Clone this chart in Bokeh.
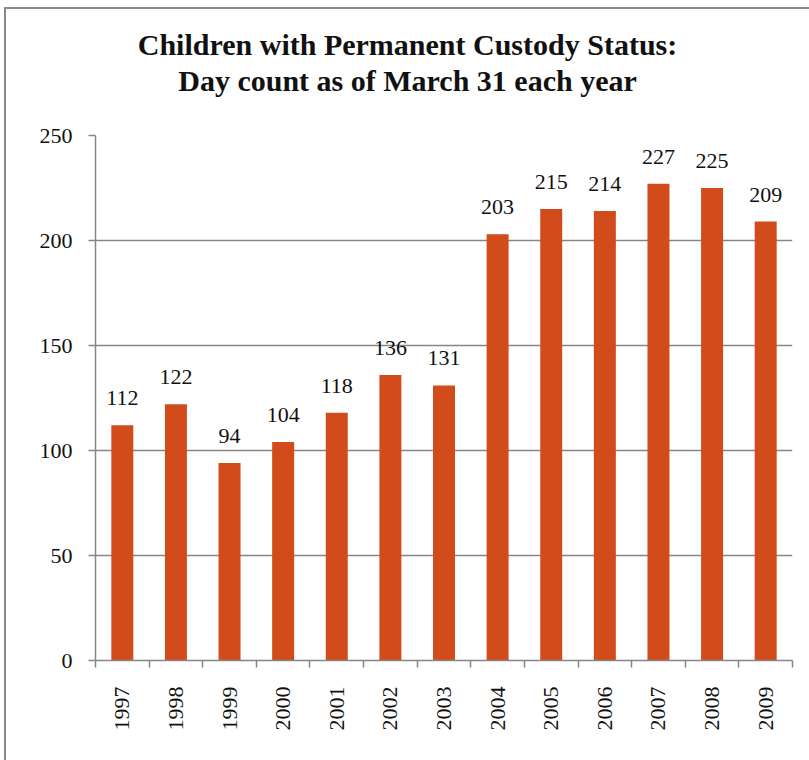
from bokeh.plotting import figure
from bokeh.models import Range1d, FactorRange, LinearAxis, FixedTicker, Div
from bokeh.layouts import column
from bokeh.embed import file_html
from bokeh.resources import INLINE
from bokeh.core.properties import value

years = ["1997", "1998", "1999", "2000", "2001", "2002", "2003",
         "2004", "2005", "2006", "2007", "2008", "2009"]
counts = [112, 122, 94, 104, 118, 136, 131, 203, 215, 214, 227, 225, 209]
y_ticks = [0, 50, 100, 150, 200, 250]
title_lines = ["Children with Permanent Custody Status:",
               "Day count as of March 31 each year"]

SERIF = "Liberation Serif"
GRAY = "#868686"
FRAME = "2px solid #8a8a8a"
BAR = "#D24B1A"

W = 803
TITLE_H = 100

title = Div(
    text=('<div style="font-family:\'Liberation Serif\',serif;font-weight:bold;'
          'font-size:30px;line-height:36px;color:#111;text-align:center;'
          'width:%dpx;padding-top:18px;">%s</div>') % (W, "<br>".join(title_lines)),
    width=W, height=TITLE_H, margin=0)

p = figure(width=W, height=26 + 525 + 100, x_range=FactorRange(*years),
           y_range=Range1d(0, 250), output_backend="svg",
           toolbar_location=None, x_axis_location=None,
           min_border_left=89, min_border_right=W - 89 - 697,
           min_border_top=26, min_border_bottom=100, margin=0)
p.outline_line_color = None
p.background_fill_color = "white"
p.border_fill_color = "white"

# numeric axis laid on the factor range's synthetic coordinates:
# labels at category centres, tick marks at category boundaries
xax = LinearAxis(ticker=FixedTicker(ticks=[i + 0.5 for i in range(len(years))],
                                    minor_ticks=list(range(len(years) + 1))),
                 major_label_overrides={i + 0.5: y for i, y in enumerate(years)})
xax.major_tick_out = 0
xax.major_tick_in = 0
xax.minor_tick_out = 7
xax.minor_tick_in = 0
xax.minor_tick_line_color = GRAY
xax.minor_tick_line_width = 1.5
xax.axis_line_color = GRAY
xax.axis_line_width = 1.5
xax.major_label_orientation = 3.14159265 / 2
xax.major_label_standoff = 19
xax.major_label_text_font = SERIF
xax.major_label_text_font_size = "22px"
xax.major_label_text_color = "#111111"
p.add_layout(xax, "below")

yax = p.yaxis[0]
yax.ticker = FixedTicker(ticks=y_ticks)
yax.major_tick_out = 7
yax.major_tick_in = 0
yax.minor_tick_line_color = None
yax.major_tick_line_color = GRAY
yax.major_tick_line_width = 1.5
yax.axis_line_color = GRAY
yax.axis_line_width = 1.5
yax.major_label_standoff = 16
yax.major_label_text_font = SERIF
yax.major_label_text_font_size = "22px"
yax.major_label_text_color = "#111111"

p.xgrid.grid_line_color = None
p.ygrid.ticker = FixedTicker(ticks=y_ticks[1:])
p.ygrid.grid_line_color = GRAY
p.ygrid.grid_line_width = 1.5

p.vbar(x=years, top=counts, width=0.41, fill_color=BAR, line_color=None)
p.text(x=years, y=counts, text=[str(c) for c in counts], y_offset=-27,
       text_align="center", text_baseline="alphabetic",
       text_font=value(SERIF), text_font_size="22px", text_color="#111111")

layout = column(title, p, spacing=0,
                styles={"margin-left": "4px", "margin-top": "7px",
                        "border-left": FRAME, "border-top": FRAME})
open("out.html", "w").write(file_html(layout, INLINE))
